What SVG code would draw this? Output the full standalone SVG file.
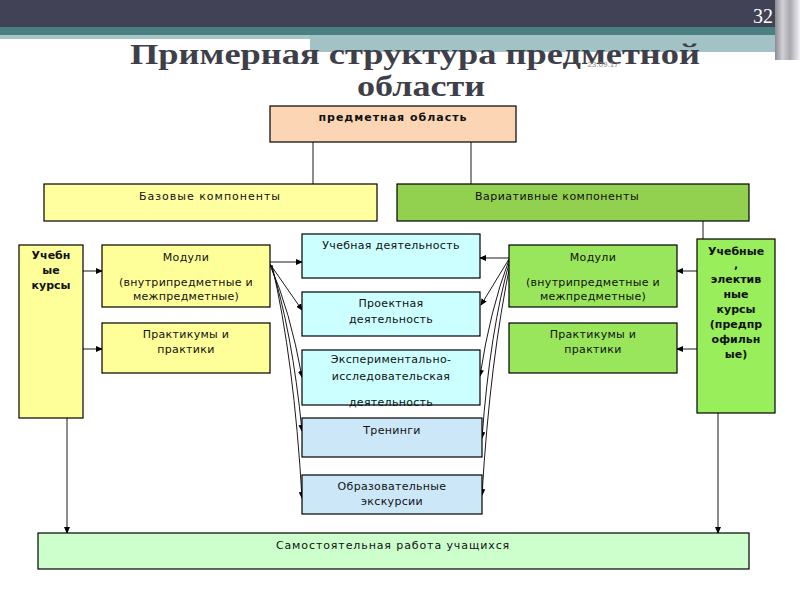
<svg xmlns="http://www.w3.org/2000/svg" width="800" height="600" viewBox="0 0 800 600">
<defs>
<marker id="ah" markerWidth="7" markerHeight="6" refX="6" refY="3" orient="auto" markerUnits="userSpaceOnUse">
<path d="M0,0 L7,3 L0,6 z" fill="#000"/>
</marker>
<linearGradient id="edge" x1="0" x2="1" y1="0" y2="0">
<stop offset="0" stop-color="#8a8a94"/>
<stop offset="0.3" stop-color="#d0d0d4"/>
<stop offset="0.6" stop-color="#a8a8b0"/>
<stop offset="1" stop-color="#f4f4f6"/>
</linearGradient>
</defs>
<style>
.box{stroke:#000;stroke-width:1.2}
.t{font-family:"DejaVu Sans","Liberation Sans",sans-serif;font-size:11px;fill:#111;text-anchor:middle}
.b{font-weight:bold}
.c{fill:none;stroke:#000;stroke-width:0.9}
.ca{fill:none;stroke:#000;stroke-width:0.9;marker-end:url(#ah)}
</style>
<rect width="800" height="600" fill="#fff"/>
<g id="header">
<rect x="0" y="0" width="800" height="27" fill="#414255"/>
<rect x="0" y="27" width="800" height="8" fill="#4a8082"/>
<rect x="0" y="35" width="800" height="4" fill="#a6c6c8"/>
<rect x="310" y="35" width="470" height="17" fill="#a2c2c6"/>
<rect x="775" y="0" width="25" height="60" fill="url(#edge)"/>
<text x="773" y="23" font-family="Liberation Serif,serif" font-size="20" fill="#fff" text-anchor="end">32</text>
</g>
<g id="title">
<text x="415" y="64" font-family="Liberation Serif,serif" font-weight="bold" font-size="30" fill="#3f3f4a" text-anchor="middle" textLength="570" lengthAdjust="spacingAndGlyphs">Примерная структура  предметной</text>
<text x="421" y="96" font-family="Liberation Serif,serif" font-weight="bold" font-size="30" fill="#3f3f4a" text-anchor="middle" textLength="128" lengthAdjust="spacingAndGlyphs">области</text>
<text x="603" y="67" font-family="Liberation Sans,sans-serif" font-size="8" fill="#8a8a8a" text-anchor="middle">23.09.17</text>
</g>
<g id="connectors">
<line class="c" x1="313" y1="142" x2="313" y2="184"/>
<line class="c" x1="471" y1="142" x2="471" y2="184"/>
<line class="c" x1="703" y1="221" x2="703" y2="239"/>
<line class="ca" x1="83" y1="271" x2="102" y2="271"/>
<line class="ca" x1="83" y1="349" x2="102" y2="349"/>
<line class="ca" x1="697" y1="271" x2="677" y2="271"/>
<line class="ca" x1="697" y1="349" x2="677" y2="349"/>
<line class="ca" x1="67" y1="418" x2="67" y2="533"/>
<line class="ca" x1="718" y1="413" x2="718" y2="533"/>
<line class="ca" x1="270" y1="262" x2="302" y2="262"/>
<path class="ca" d="M270,264 L302,310"/>
<path class="ca" d="M270,265 Q290,310 302,377"/>
<path class="ca" d="M271,265 Q292,330 302,431"/>
<path class="ca" d="M272,265 Q294,360 302,498"/>
<line class="ca" x1="509" y1="258" x2="480" y2="258"/>
<path class="ca" d="M509,259 L481,305"/>
<path class="ca" d="M509,260 Q490,310 480,376"/>
<path class="ca" d="M510,260 Q490,330 482,438"/>
<path class="ca" d="M511,260 Q490,360 482,495"/>
</g>
<g id="n-predm">
<rect class="box" x="270" y="106" width="246" height="36" fill="#fcd5b4"/>
<text class="t b" x="393" y="121" letter-spacing="1">предметная  область</text>
</g>
<g id="n-baz">
<rect class="box" x="44" y="184" width="333" height="37" fill="#ffffa0"/>
<text class="t" x="210" y="200" letter-spacing="1">Базовые  компоненты</text>
</g>
<g id="n-var">
<rect class="box" x="397" y="184" width="352" height="37" fill="#92d050"/>
<text class="t" x="557" y="200" letter-spacing="0.5">Вариативные  компоненты</text>
</g>
<g id="n-uk-left">
<rect class="box" x="19" y="245" width="64" height="173" fill="#ffff99"/>
<text class="t b" x="51" y="259">Учебн</text>
<text class="t b" x="51" y="274">ые</text>
<text class="t b" x="51" y="289">курсы</text>
</g>
<g id="n-mod-left">
<rect class="box" x="102" y="245" width="168" height="62" fill="#ffff99"/>
<text class="t" x="186" y="261" letter-spacing="0.3">Модули</text>
<text class="t" x="186" y="286" letter-spacing="0.3">(внутрипредметные и</text>
<text class="t" x="186" y="300" letter-spacing="0.3">межпредметные)</text>
</g>
<g id="n-prak-left">
<rect class="box" x="102" y="323" width="168" height="50" fill="#ffff99"/>
<text class="t" x="186" y="338" letter-spacing="0.3">Практикумы  и</text>
<text class="t" x="186" y="353" letter-spacing="0.3">практики</text>
</g>
<g id="n-ucheb">
<rect class="box" x="302" y="234" width="178" height="44" fill="#ccffff"/>
<text class="t" x="391" y="249" letter-spacing="0.3">Учебная деятельность</text>
</g>
<g id="n-proekt">
<rect class="box" x="302" y="292" width="178" height="44" fill="#ccffff"/>
<text class="t" x="391" y="307" letter-spacing="0.3">Проектная</text>
<text class="t" x="391" y="323" letter-spacing="0.3">деятельность</text>
</g>
<g id="n-eksp">
<rect class="box" x="302" y="350" width="178" height="55" fill="#ccffff"/>
<text class="t" x="391" y="363" letter-spacing="0.3">Экспериментально-</text>
<text class="t" x="391" y="380" letter-spacing="0.3">исследовательская</text>
<text class="t" x="391" y="406" letter-spacing="0.3">деятельность</text>
</g>
<g id="n-trening">
<rect class="box" x="302" y="418" width="180" height="39" fill="#cce8f8"/>
<text class="t" x="392" y="434" letter-spacing="0.3">Тренинги</text>
</g>
<g id="n-ekskurs">
<rect class="box" x="302" y="475" width="180" height="39" fill="#cce8f8"/>
<text class="t" x="392" y="490" letter-spacing="0.3">Образовательные</text>
<text class="t" x="392" y="505" letter-spacing="0.3">экскурсии</text>
</g>
<g id="n-mod-right">
<rect class="box" x="509" y="245" width="168" height="62" fill="#99e65c"/>
<text class="t" x="593" y="261" letter-spacing="0.3">Модули</text>
<text class="t" x="593" y="286" letter-spacing="0.3">(внутрипредметные и</text>
<text class="t" x="593" y="300" letter-spacing="0.3">межпредметные)</text>
</g>
<g id="n-prak-right">
<rect class="box" x="509" y="323" width="168" height="50" fill="#99e65c"/>
<text class="t" x="593" y="338" letter-spacing="0.3">Практикумы  и</text>
<text class="t" x="593" y="353" letter-spacing="0.3">практики</text>
</g>
<g id="n-uk-right">
<rect class="box" x="697" y="239" width="78" height="174" fill="#99ee5c"/>
<text class="t b" x="736" y="255">Учебные</text>
<text class="t b" x="736" y="268">,</text>
<text class="t b" x="736" y="283">электив</text>
<text class="t b" x="736" y="298">ные</text>
<text class="t b" x="736" y="313">курсы</text>
<text class="t b" x="736" y="328">(предпр</text>
<text class="t b" x="736" y="343">офильн</text>
<text class="t b" x="736" y="358">ые)</text>
</g>
<g id="n-samost">
<rect class="box" x="38" y="533" width="711" height="36" fill="#ccffcc"/>
<text class="t" x="393" y="549" letter-spacing="0.9">Самостоятельная  работа учащихся</text>
</g>
</svg>
